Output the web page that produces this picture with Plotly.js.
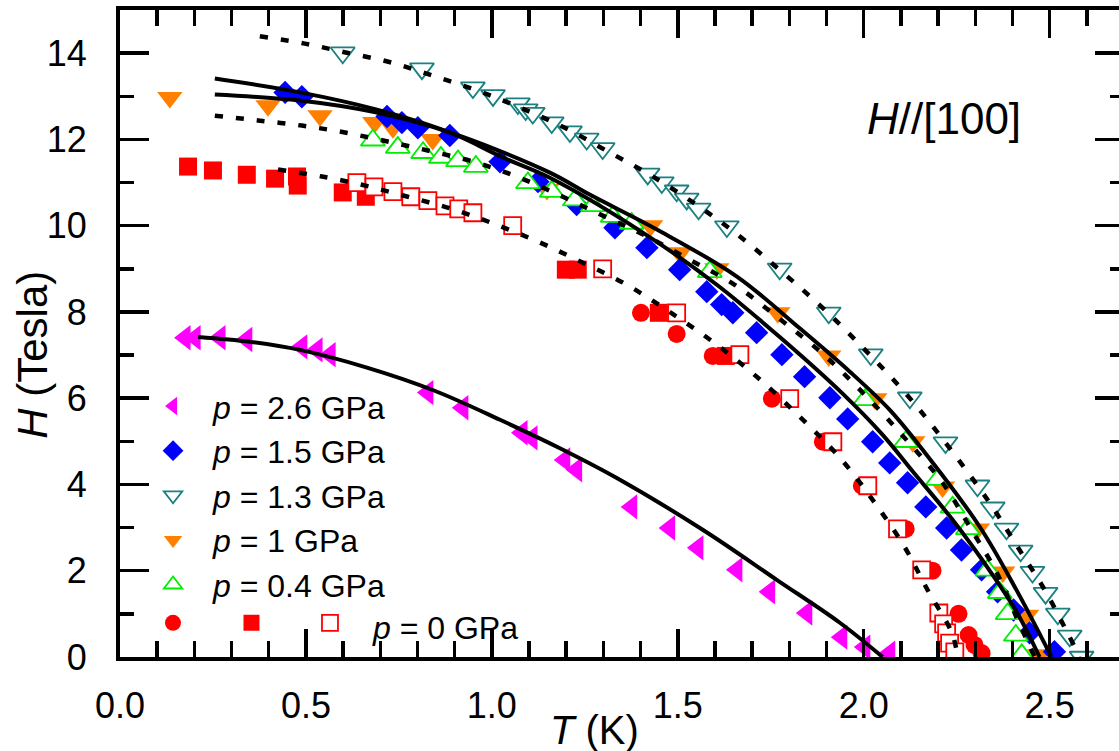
<!DOCTYPE html>
<html>
<head>
<meta charset="utf-8">
<script src="https://cdn.plot.ly/plotly-3.0.1.min.js"></script>
<style>
html,body{margin:0;padding:0;overflow:hidden;background:#fff;}
#chart{width:1124px;height:751px;}
</style>
</head>
<body>
<div id="chart"></div>
<script>
// ---- data (T in K, H in Tesla) ----
const T_p26 = [0.175,0.202,0.269,0.341,0.489,0.530,0.565,0.828,0.922,1.081,1.108,1.196,1.228,1.376,1.478,1.554,1.659,1.747,1.847,1.941,2.003,2.070];
const H_p26 = [7.40,7.40,7.40,7.36,7.19,7.12,7.01,6.13,5.78,5.20,5.08,4.57,4.34,3.48,2.99,2.53,2.02,1.51,1.02,0.46,0.23,0.09];

const T_p15 = [0.444,0.489,0.718,0.758,0.801,0.887,1.022,1.124,1.228,1.331,1.417,1.505,1.578,1.618,1.648,1.712,1.780,1.841,1.909,1.957,2.024,2.070,2.118,2.167,2.223,2.263,2.317,2.360,2.403,2.446,2.513];
const H_p15 = [13.09,12.99,12.53,12.39,12.27,12.09,11.48,11.02,10.49,9.95,9.49,8.98,8.47,8.17,7.98,7.52,7.01,6.50,6.01,5.52,4.99,4.50,4.04,3.48,2.99,2.48,2.02,1.51,1.09,0.56,0.12];

const T_p13 = [0.599,0.812,0.949,1.003,1.070,1.091,1.110,1.161,1.210,1.255,1.298,1.419,1.457,1.497,1.524,1.556,1.632,1.774,1.906,2.019,2.124,2.220,2.306,2.347,2.384,2.422,2.454,2.489,2.522,2.554,2.586];
const H_p13 = [14.01,13.64,13.20,13.02,12.83,12.69,12.61,12.39,12.18,12.01,11.79,11.20,11.00,10.81,10.62,10.39,9.98,9.00,7.98,7.01,6.01,4.97,3.97,3.46,2.97,2.46,1.97,1.48,1.00,0.49,0.0];

const T_p1 = [0.134,0.398,0.538,0.685,0.734,0.841,1.148,1.427,1.505,1.605,1.769,1.906,2.030,2.132,2.212,2.306,2.374,2.438,2.473];
const H_p1 = [12.97,12.78,12.55,12.39,12.27,12.00,10.84,10.00,9.37,9.00,7.98,6.98,5.99,4.99,3.94,2.97,1.97,0.97,0.05];

const T_p04 = [0.680,0.747,0.815,0.863,0.909,0.957,1.097,1.161,1.223,1.272,1.325,1.376,1.586,2.003,2.113,2.199,2.239,2.280,2.333,2.366,2.387,2.409,2.425];
const H_p04 = [11.98,11.81,11.69,11.58,11.50,11.37,10.99,10.79,10.59,10.46,10.21,10.05,8.93,5.96,4.99,4.11,3.47,2.97,2.01,1.49,1.00,0.50,0.05];

const T_p0_circ = [1.401,1.497,1.594,1.753,1.890,1.995,2.113,2.185,2.255,2.282,2.298,2.317];
const H_p0_circ = [7.98,7.49,6.98,5.99,4.99,3.97,2.97,2.00,1.00,0.51,0.28,0.09];

const T_p0_sq = [0.183,0.250,0.341,0.417,0.476,0.478,0.599,0.661,1.199,1.231,1.449,1.629];
const H_p0_sq = [11.37,11.28,11.18,11.09,11.14,10.93,10.77,10.67,8.98,8.98,7.98,6.98];

const T_p0_open = [0.637,0.683,0.734,0.782,0.828,0.874,0.911,0.949,1.056,1.298,1.497,1.667,1.801,1.917,2.011,2.091,2.156,2.202,2.215,2.223,2.231,2.245];
const H_p0_open = [11.00,10.90,10.79,10.67,10.58,10.46,10.39,10.30,10.00,9.00,7.98,7.01,5.99,4.99,3.97,2.97,2.02,1.02,0.77,0.56,0.32,0.12];

// fit curves (solid)
const T_fit26 = [0.210,0.349,0.484,0.664,0.841,1.022,1.183,1.336,1.567,1.766,1.935,2.051];
const H_fit26 = [7.42,7.31,7.12,6.71,6.19,5.50,4.84,4.15,2.95,1.79,0.80,0.0];
const T_fitU = [0.255,0.484,0.691,0.887,1.156,1.263,1.444,1.659,1.828,1.962,2.070,2.159,2.312,2.411,2.505];
const H_fitU = [13.04,12.90,12.62,12.16,11.23,10.72,9.91,8.82,7.62,6.62,5.73,4.80,3.02,1.55,0.0];
const T_fitL = [0.255,0.484,0.691,0.887,1.030,1.156,1.406,1.605,1.782,1.944,2.051,2.132,2.239,2.347,2.411,2.473];
const H_fitL = [13.41,13.09,12.69,12.16,11.58,11.11,9.84,8.63,7.36,6.10,5.15,4.30,3.18,1.90,1.05,0.0];

// fit curves (dotted)
const T_dot13 = [0.376,0.497,0.610,0.731,0.847,0.962,1.075,1.196,1.312,1.425,1.546,1.661,1.780,1.895,2.008,2.116,2.210,2.339,2.414,2.487,2.548,2.581];
const H_dot13 = [14.39,14.22,14.01,13.78,13.46,13.13,12.74,12.27,11.72,11.18,10.51,9.79,8.93,8.05,7.08,6.08,5.08,3.57,2.55,1.55,0.56,0.0];
const T_dot04 = [0.255,0.371,0.489,0.605,0.720,0.839,0.960,1.075,1.191,1.304,1.419,1.532,1.653,1.769,1.887,2.003,2.110,2.212,2.285,2.358,2.414,2.460];
const H_dot04 = [12.55,12.44,12.32,12.16,11.95,11.72,11.46,11.11,10.67,10.21,9.74,9.21,8.63,7.87,7.05,6.08,5.08,4.04,3.02,1.95,0.86,0.0];
const T_dot0 = [0.425,0.543,0.659,0.774,0.892,1.013,1.129,1.245,1.363,1.478,1.594,1.712,1.828,1.941,2.030,2.110,2.172,2.237,2.253];
const H_dot0 = [11.30,11.14,10.93,10.67,10.39,10.02,9.61,9.14,8.63,8.00,7.31,6.50,5.57,4.57,3.57,2.55,1.55,0.56,0.0];

const labels = {
  p26: '<i>p</i> = 2.6 GPa',
  p15: '<i>p</i> = 1.5 GPa',
  p13: '<i>p</i> = 1.3 GPa',
  p1: '<i>p</i> = 1 GPa',
  p04: '<i>p</i> = 0.4 GPa',
  p0: '<i>p</i> = 0 GPa'
};

const FONT = 'Liberation Sans, Arial, sans-serif';

function pts(x, y, name, marker, rank, legend) {
  return {x: x, y: y, type: 'scatter', mode: 'markers', name: name, marker: marker,
          legendrank: rank, legend: legend || 'legend', showlegend: true};
}
function curve(x, y, dash) {
  return {x: x, y: y, type: 'scatter', mode: 'lines', showlegend: false,
          line: {color: '#000', width: dash ? 4.5 : 4, dash: dash ? '8px,13px' : 'solid', shape: 'spline', smoothing: 1.0}};
}

const data = [
  pts(T_p1, H_p1, labels.p1, {symbol: 'triangle-down', size: 22, color: '#FF8000', line: {width: 0}}, 4),
  pts(T_p15, H_p15, labels.p15, {symbol: 'diamond', size: 18, color: '#0000FF', line: {width: 0}}, 2),
  pts(T_p04, H_p04, labels.p04, {symbol: 'triangle-up', size: 21, color: '#FFFFFF', line: {width: 1.8, color: '#00EE00'}}, 5),
  pts(T_p13, H_p13, labels.p13, {symbol: 'triangle-down', size: 21, color: '#FFFFFF', line: {width: 1.8, color: '#1A8080'}}, 3),
  pts(T_p26, H_p26, labels.p26, {symbol: 'triangle-left', size: 22, color: '#FF00FF', line: {width: 0}}, 1),
  pts(T_p0_circ, H_p0_circ, ' ', {symbol: 'circle', size: 18, color: '#FF0000', line: {width: 0}}, 6, 'legend2'),
  pts(T_p0_sq, H_p0_sq, ' ', {symbol: 'square', size: 18, color: '#FF0000', line: {width: 0}}, 7, 'legend2'),
  pts(T_p0_open, H_p0_open, ' ', {symbol: 'square', size: 17, color: '#FFFFFF', line: {width: 1.8, color: '#FF0000'}}, 8, 'legend2'),
  curve(T_fit26, H_fit26, false),
  curve(T_fitU, H_fitU, false),
  curve(T_fitL, H_fitL, false),
  curve(T_dot13, H_dot13, true),
  curve(T_dot04, H_dot04, true),
  curve(T_dot0, H_dot0, true)
];

const axisCommon = {
  showline: true, linecolor: '#000', linewidth: 4, mirror: 'allticks',
  ticks: 'inside', tickcolor: '#000', tickwidth: 3.5,
  showgrid: false, zeroline: false,
  tickfont: {family: FONT, size: 36, color: '#000'}
};

const layout = {
  width: 1124, height: 751,
  margin: {l: 120, r: 0, t: 10, b: 94},
  paper_bgcolor: '#fff', plot_bgcolor: '#fff',
  font: {family: FONT, color: '#000'},
  xaxis: Object.assign({}, axisCommon, {
    range: [0, 2.7], tick0: 0, dtick: 0.5, ticklen: 28, tickformat: '.1f',
    ticklabelstandoff: 14,
    minor: {dtick: 0.1, tick0: 0, ticks: 'inside', ticklen: 16, tickwidth: 3.5, tickcolor: '#000', showgrid: false}
  }),
  yaxis: Object.assign({}, axisCommon, {
    range: [0, 15], tick0: 0, dtick: 2, ticklen: 29,
    ticklabelstandoff: 22,
    minor: {dtick: 1, tick0: 0, ticks: 'inside', ticklen: 14, tickwidth: 3.5, tickcolor: '#000', showgrid: false}
  }),
  showlegend: true,
  legend: {
    x: 0.013, y: 0.43, xanchor: 'left', yanchor: 'top',
    bgcolor: 'rgba(0,0,0,0)', borderwidth: 0,
    font: {family: FONT, size: 32, color: '#000'},
    itemwidth: 70, tracegroupgap: 0, traceorder: 'normal'
  },
  legend2: {
    x: 0.0204, y: 0.095, xanchor: 'left', yanchor: 'top', orientation: 'h',
    bgcolor: 'rgba(0,0,0,0)', borderwidth: 0,
    font: {family: FONT, size: 32, color: '#000'},
    itemwidth: 55, entrywidth: 8.5, entrywidthmode: 'pixels', traceorder: 'normal'
  },
  annotations: [
    {text: labels.p0, xref: 'paper', yref: 'paper', x: (370 - 120) / 1004, y: (657 - 628) / 647,
     xanchor: 'left', yanchor: 'middle', showarrow: false,
     font: {family: FONT, size: 32, color: '#000'}},
    {text: '<i>H</i>//[100]', xref: 'paper', yref: 'paper', x: 0.821, y: 0.833,
     xanchor: 'center', yanchor: 'middle', showarrow: false,
     font: {family: FONT, size: 44, color: '#000'}},
    {text: '<i>H</i> (Tesla)', xref: 'paper', yref: 'paper', x: -0.0867, y: 0.467,
     xanchor: 'center', yanchor: 'middle', showarrow: false, textangle: -90,
     font: {family: FONT, size: 42, color: '#000'}},
    {text: '<i>T</i> (K)', xref: 'paper', yref: 'paper', x: 0.473, y: -0.113,
     xanchor: 'center', yanchor: 'middle', showarrow: false,
     font: {family: FONT, size: 40, color: '#000'}}
  ]
};

Plotly.newPlot('chart', data, layout, {staticPlot: true, displayModeBar: false});
</script>
</body>
</html>
